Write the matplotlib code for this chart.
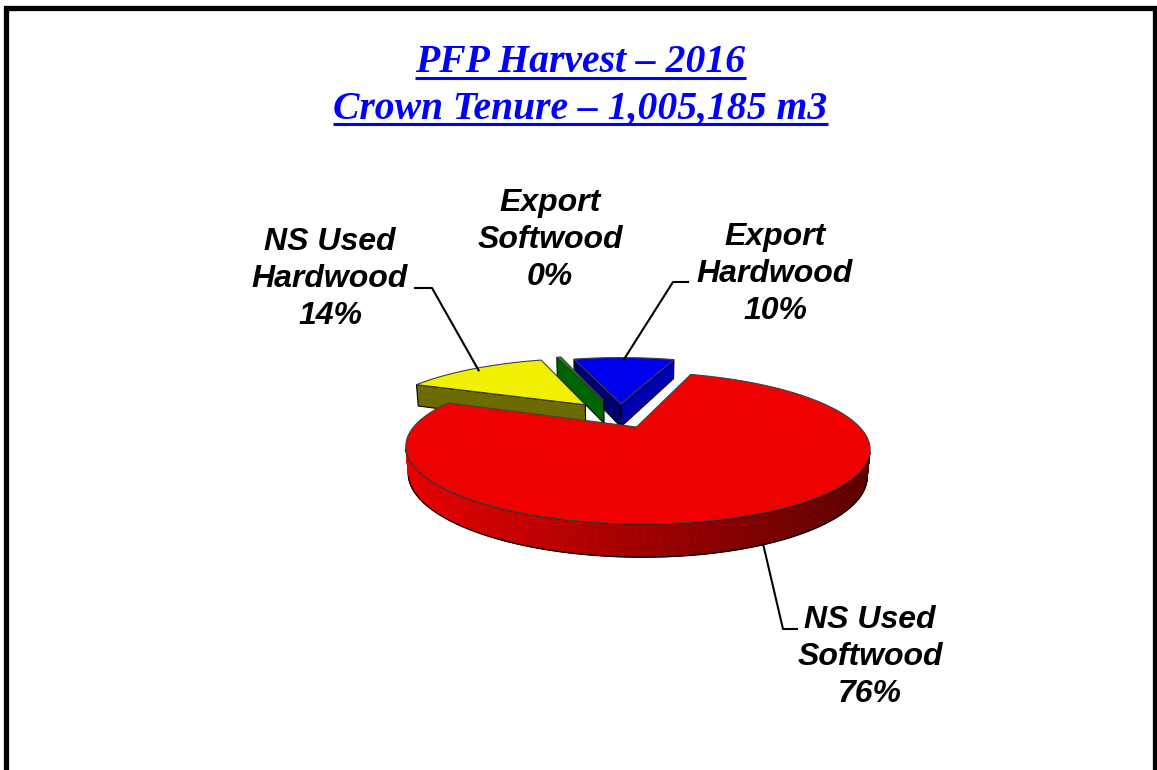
import numpy as np
import matplotlib
matplotlib.use('Agg')
import matplotlib.pyplot as plt
from matplotlib.patches import Polygon

# ---- data ----
labels = ['NS Used\nSoftwood', 'NS Used\nHardwood', 'Export\nSoftwood', 'Export\nHardwood']
values = [75.9, 13.8, 0.4, 9.9]
title_lines = ['PFP Harvest – 2016', 'Crown Tenure – 1,005,185 m3']

# ---- look ----
top_colors = ['#f00000', '#f0f000', '#00a000', '#0000f0']
start_face_colors = ['#700000', '#6b6b00', '#006400', '#000070']
end_face_colors = ['#a00000', '#a0a000', '#006400', '#0000b0']
side_base = [(0.94, 0, 0), (0.94, 0.94, 0), (0, 0.63, 0), (0, 0, 0.94)]
explode = [0.18, 0.25, 0.27, 0.2]
label_xy = [(870, 657), (330, 279), (550, 240), (775, 274)]
leader_xy = [[(797, 629), (783, 629)], [(415, 288), (432, 288)], None, [(688, 282), (673, 282)]]
anchor_face = ['bottom', 'top', None, 'top']

# 3d projection settings (pixel space)
W, H = 1157, 770
CX, CY = 620, 416
FOC = 768.0
DIST = 3.6
ALPHA = np.radians(17.5)
THICK = 0.12
START = 19.0  # degrees clockwise from 12 o'clock

ca, sa = np.cos(ALPHA), np.sin(ALPHA)


def proj(X, Z, h):
    dep = DIST + Z * ca - h * sa
    sx = CX + FOC * X / dep
    sy = CY - FOC * (Z * sa + h * ca) / dep
    return sx, sy


def cam_dot(px, pz, nx, nz):
    # normal (nx, 0, nz) vs direction to the camera
    return nx * (0 - px) + nz * (-DIST * ca - pz)


fig = plt.figure(figsize=(W / 100, H / 100), dpi=100)
ax = fig.add_axes([0, 0, 1, 1])
ax.set_xlim(0, W)
ax.set_ylim(H, 0)
ax.axis('off')

total = sum(values)
bounds = START + 360 * np.concatenate([[0], np.cumsum(values)]) / total

mids = [(bounds[i] + bounds[i + 1]) / 2 for i in range(len(values))]
order = sorted(range(len(values)), key=lambda i: -np.cos(np.radians(mids[i])))

anchors = {}
z = 1
for i in order:
    a0, a1 = np.radians(bounds[i]), np.radians(bounds[i + 1])
    m = np.radians(mids[i])
    ox, oz = explode[i] * np.sin(m), explode[i] * np.cos(m)
    n = max(int((bounds[i + 1] - bounds[i]) * 2), 4)
    phi = np.linspace(a0, a1, n)
    rx, rz = ox + np.sin(phi), oz + np.cos(phi)
    tx, ty = proj(rx, rz, 0)
    bx, by = proj(rx, rz, -THICK)
    apx, apy = proj(ox, oz, 0)
    abx, aby = proj(ox, oz, -THICK)

    # cut faces
    for ang, nang, col in [(a0, a0 - np.pi / 2, start_face_colors[i]),
                           (a1, a1 + np.pi / 2, end_face_colors[i])]:
        if cam_dot(ox, oz, np.sin(nang), np.cos(nang)) > 0:
            ex, ez = ox + np.sin(ang), oz + np.cos(ang)
            p1 = proj(ex, ez, 0)
            p2 = proj(ex, ez, -THICK)
            quad = [(apx, apy), p1, p2, (abx, aby)]
            ax.add_patch(Polygon(quad, closed=True, facecolor=col, edgecolor='black',
                                 lw=0.8, zorder=z))

    # outer side, shaded from left to right
    vis = cam_dot(rx, rz, np.sin(phi), np.cos(phi)) > 0
    base = np.array(side_base[i])
    for k in range(n - 1):
        if vis[k] and vis[k + 1]:
            t = np.clip((tx[k] - 405) / 470, 0, 1)
            col = base * (0.96 - 0.58 * t)
            quad = [(tx[k], ty[k]), (tx[k + 1], ty[k + 1]), (bx[k + 1], by[k + 1]), (bx[k], by[k])]
            ax.add_patch(Polygon(quad, closed=True, facecolor=col, edgecolor=col,
                                 lw=0.6, zorder=z + 0.1))
    if vis.any():
        idx = np.where(vis)[0]
        ax.plot(bx[idx], by[idx], color='black', lw=0.9, zorder=z + 0.2)
        ax.plot(tx[idx], ty[idx], color='black', lw=0.9, zorder=z + 0.2)

    # top face
    pts = [(apx, apy)] + list(zip(tx, ty))
    ax.add_patch(Polygon(pts, closed=True, facecolor=top_colors[i], edgecolor='#404040',
                         lw=0.8, zorder=z + 0.3))

    if anchor_face[i] == 'top':
        anchors[i] = proj(ox + 0.95 * np.sin(m), oz + 0.95 * np.cos(m), 0)
    elif anchor_face[i] == 'bottom':
        anchors[i] = proj(ox + np.sin(m), oz + np.cos(m), -THICK)
    z += 1

# labels and leader lines
for i, lab in enumerate(labels):
    ax.text(label_xy[i][0], label_xy[i][1], f'{lab}\n{round(values[i])}%', ha='center', va='center',
            multialignment='center', fontsize=23, fontweight='bold', fontstyle='italic',
            family='Liberation Sans', linespacing=1.3, color='black', zorder=10)
    if leader_xy[i] is not None:
        xs = [leader_xy[i][0][0], leader_xy[i][1][0], anchors[i][0]]
        ys = [leader_xy[i][0][1], leader_xy[i][1][1], anchors[i][1]]
        ax.plot(xs, ys, color='black', lw=1.5, zorder=10)

# title with underline
title_texts = []
for txt, yb in zip(title_lines, [72, 118.5]):
    t = ax.text(580.5, yb, txt, ha='center', va='baseline', fontsize=28.5, fontweight='bold',
                fontstyle='italic', family='Liberation Serif', color='#0000ff', zorder=10)
    title_texts.append((t, yb))

fig.canvas.draw()
inv = ax.transData.inverted()
for t, yb in title_texts:
    bb = t.get_window_extent()
    x0 = inv.transform((bb.x0, 0))[0]
    x1 = inv.transform((bb.x1, 0))[0]
    ax.plot([x0, x1], [yb + 5.5, yb + 5.5], color='#0000ff', lw=2.2, zorder=10,
            solid_capstyle='butt')

# frame (no bottom edge)
ax.plot([5.5, 5.5, 1154.5, 1154.5], [H + 5, 7.5, 7.5, H + 5], color='black', lw=3.8,
        solid_joinstyle='miter', zorder=11, clip_on=False)

plt.savefig('out.png', dpi=100)
